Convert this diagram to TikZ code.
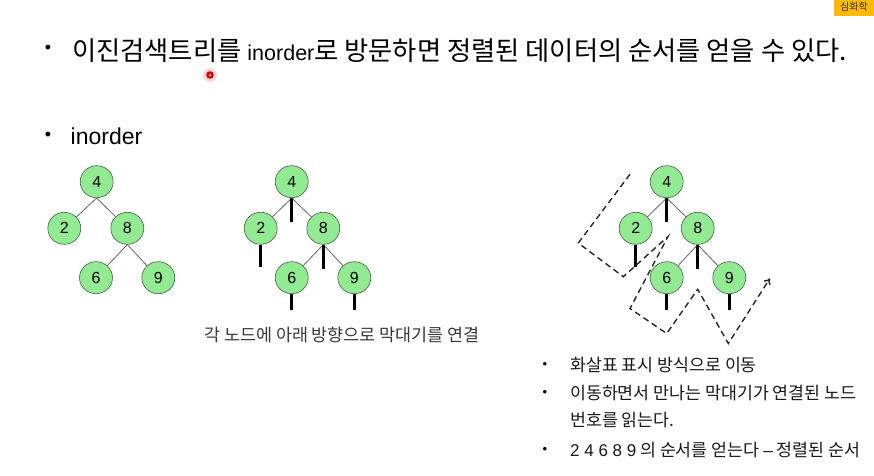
\documentclass[tikz,border=0pt]{standalone}
\usepackage{fontspec}
\setmainfont{Liberation Sans}
\newfontfamily\kr{Noto Sans CJK KR}
\newfontfamily\ar{Liberation Sans}
\usetikzlibrary{shapes.geometric,arrows.meta}
\definecolor{lgreen}{RGB}{146,234,146}
\definecolor{nodeline}{RGB}{70,95,70}
\definecolor{badge}{RGB}{255,185,0}
\begin{document}
\begin{tikzpicture}[x=1pt,y=-1pt,
  tn/.style={ellipse,draw=nodeline,fill=lgreen,minimum width=33pt,minimum height=32pt,inner sep=0pt,line width=0.6pt,font=\ar\fontsize{16}{16}\selectfont},
  edge/.style={draw=black!60,line width=0.8pt},
  stick/.style={draw=black,line width=2.6pt},
  walk/.style={draw=black!85,line width=1.4pt,dash pattern=on 6pt off 4pt},
  bul/.style={font=\ar\fontsize{18}{18}\selectfont,inner sep=0pt},
  sbul/.style={font=\ar\fontsize{13}{13}\selectfont,inner sep=0pt},
  ltxt/.style={anchor=west,inner sep=0pt,font=\kr\fontsize{17.3}{19}\selectfont,text=black!90},
]
\useasboundingbox (0,0) rectangle (874,475);
\fill[white] (0,0) rectangle (874,475);

% badge
\begin{scope}
\clip (0,0) rectangle (874,475);
\fill[badge] (834,0) rectangle (880,16);
\node[anchor=west,inner sep=0pt,font=\kr\fontsize{10}{10}\selectfont,text=black!80] (badgetxt) at (840,7) {심화학};
\end{scope}

% title
\node[bul] (tb1) at (48,49.5) {•};
\node[anchor=west,inner sep=0pt] (title) at (72,51) {\kr\fontsize{26.3}{30}\selectfont 이진검색트리를 {\ar\fontsize{21.5}{30}\selectfont inorder}로 방문하면 정렬된 데이터의 순서를 얻을 수 있다.};

% red pointer dot
\fill[red!15] (210,75) circle (7);
\fill[red!85!black] (210,75) circle (3.8);
\fill[red!40] (210,75) circle (1.5);

\node[bul] (tb2) at (48,136) {•};
\node[anchor=west,inner sep=0pt,font=\ar\fontsize{23}{28}\selectfont] (inord) at (70.5,136) {inorder};

% tree 1
\node[tn] (a4) at (96.7,181.7) {4};
\node[tn] (a2) at (64.3,228.3) {2};
\node[tn] (a8) at (127.3,228.3) {8};
\node[tn] (a6) at (96,277.7) {6};
\node[tn] (a9) at (158.3,277.7) {9};
\draw[edge] (a4.south) -- (a2);
\draw[edge] (a4.south) -- (a8);
\draw[edge] (a8.south) -- (a6);
\draw[edge] (a8.south) -- (a9);

% tree 2
\node[tn] (b4) at (291.7,181.7) {4};
\node[tn] (b2) at (260.7,228.3) {2};
\node[tn] (b8) at (323.3,228.3) {8};
\node[tn] (b6) at (291.7,277.7) {6};
\node[tn] (b9) at (354.3,277.7) {9};
\draw[edge] (b4.south) -- (b2);
\draw[edge] (b4.south) -- (b8);
\draw[edge] (b8.south) -- (b6);
\draw[edge] (b8.south) -- (b9);
\draw[stick] (b4.south) -- ++(0,24);
\draw[stick] (b2.south) -- ++(0,22.5);
\draw[stick] (b8.south) -- ++(0,24);
\draw[stick] (b6.south) -- ++(0,15.5);
\draw[stick] (b9.south) -- ++(0,15.5);

\node[inner sep=0pt,font=\kr\fontsize{17.4}{19}\selectfont,text=black!78] (cap) at (342,334.5) {각 노드에 아래 방향으로 막대기를 연결};

% tree 3
\node[tn] (c4) at (666.7,181.7) {4};
\node[tn] (c2) at (635.7,228.3) {2};
\node[tn] (c8) at (697.7,228.3) {8};
\node[tn] (c6) at (666.7,277.7) {6};
\node[tn] (c9) at (729.3,277.7) {9};
\draw[edge] (c4.south) -- (c2);
\draw[edge] (c4.south) -- (c8);
\draw[edge] (c8.south) -- (c6);
\draw[edge] (c8.south) -- (c9);
\draw[stick] (c4.south) -- ++(0,24);
\draw[stick] (c2.south) -- ++(0,22.5);
\draw[stick] (c8.south) -- ++(0,24);
\draw[stick] (c6.south) -- ++(0,15.5);
\draw[stick] (c9.south) -- ++(0,15.5);

% traversal path
\coordinate (p0) at (630,174.3);
\coordinate (p1) at (578.3,243);
\coordinate (p2) at (623.3,276.7);
\coordinate (p3) at (668,236.5);
\coordinate (p4) at (630,308.5);
\coordinate (p5) at (666.7,333.5);
\coordinate (p6) at (697.7,289.3);
\coordinate (p7) at (728.3,343.5);
\coordinate (p8) at (770,278.3);
\draw[walk,-{To[length=6pt,width=8pt]}] (p0) -- (p1) -- (p2) -- (p3) -- (p4) -- (p5) -- (p6) -- (p7) -- (p8);

% lower bullets
\node[sbul] (lb1) at (545,365) {•};
\node[ltxt] (l1) at (570,365) {화살표 표시 방식으로 이동};
\node[sbul] (lb2) at (545,393.3) {•};
\node[ltxt] (l2) at (570,393.3) {이동하면서 만나는 막대기가 연결된 노드};
\node[ltxt] (l3) at (570,420.5) {번호를 읽는다.};
\node[sbul] (lb3) at (545,450) {•};
\node[ltxt] (l4) at (570,450) {{\ar\fontsize{17}{19}\selectfont 2 4 6 8 9} 의 순서를 얻는다 {\ar –} 정렬된 순서};
\end{tikzpicture}
\end{document}
